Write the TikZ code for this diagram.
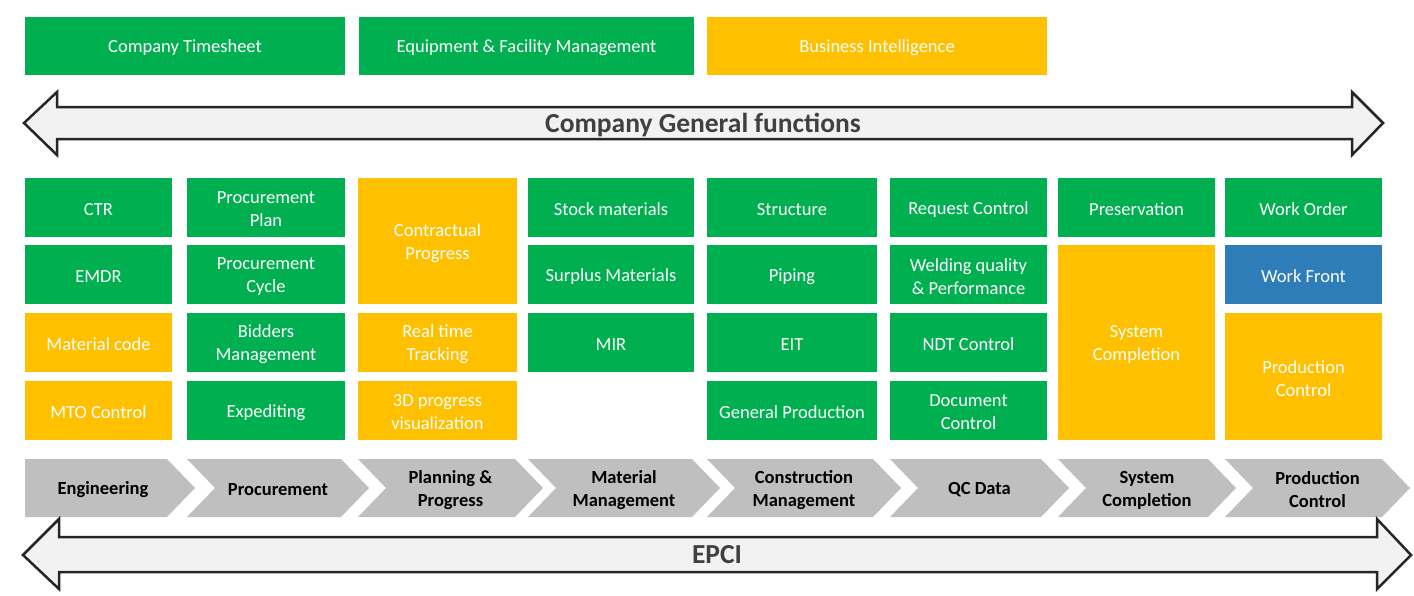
\documentclass[tikz,border=0pt]{standalone}
\usepackage{fontspec}
\setmainfont{Carlito}
\definecolor{cgreen}{HTML}{00B050}
\definecolor{cyellow}{HTML}{FFC000}
\definecolor{cblue}{HTML}{2E7DB8}
\definecolor{cgray}{HTML}{BFBFBF}
\definecolor{afill}{HTML}{F2F2F2}
\definecolor{aline}{HTML}{262626}
\definecolor{alabel}{HTML}{404040}
\tikzset{
  box/.style={draw=none, inner sep=0pt, outer sep=0pt, anchor=north west},
  gbox/.style={box, fill=cgreen},
  ybox/.style={box, fill=cyellow},
  bbox/.style={box, fill=cblue},
  boxtext/.style={inner sep=0pt, text=white, align=center, font=\fontsize{18.5}{23}\selectfont},
  chevshape/.style={fill=cgray, draw=none},
  chevtext/.style={font=\bfseries\fontsize{18.5}{23}\selectfont, align=center, text=black, inner sep=0pt},
  bigarrow/.style={fill=afill, draw=aline, line width=2.5pt, line join=miter},
  biglabel/.style={font=\bfseries\fontsize{27.5}{30}\selectfont, text=alabel, inner sep=0pt}
}
\newcommand\mybox[7]{%
  \node[#1, minimum width={#5pt-#3pt}, minimum height={#6pt-#4pt}] (#2) at (#3,#4) {};
  \node[boxtext] (#2-t) at ([yshift=-2pt]#2.center) {#7};}
\newcommand\mychev[4]{%
  \path[chevshape] (#2,459) -- (#3,459) -- ({#3+28},488) -- (#3,517) -- (#2,517) -- ({#2+28},488) -- cycle;
  \node[chevtext] (#1) at ({(#2+#3)/2+14},490) {#4};}
\begin{document}
\begin{tikzpicture}[x=1pt, y=-1pt]
\useasboundingbox (0,0) rectangle (1414,595);
\fill[white] (0,0) rectangle (1414,595);

% top row
\mybox{gbox}{ts}{25}{17}{345}{75}{Company Timesheet}
\mybox{gbox}{efm}{359}{17}{694}{75}{Equipment \& Facility Management}
\mybox{ybox}{bi}{707}{17}{1047}{75}{Business Intelligence}

% top arrow
\draw[bigarrow] (24,123) -- (57,92) -- (57,107) -- (1352,107) -- (1352,92) -- (1383,123)
  -- (1352,155) -- (1352,139) -- (57,139) -- (57,155) -- cycle;
\node[biglabel] (cgf) at (703,125) {Company General functions};

% column 1
\mybox{gbox}{ctr}{25}{178}{172}{237}{CTR}
\mybox{gbox}{emdr}{25}{245}{172}{304}{EMDR}
\mybox{ybox}{matcode}{25}{313}{172}{372}{Material code}
\mybox{ybox}{mto}{25}{381}{172}{440}{MTO Control}
% column 2
\mybox{gbox}{pplan}{187}{178}{345}{237}{Procurement\\Plan}
\mybox{gbox}{pcycle}{187}{245}{345}{304}{Procurement\\Cycle}
\mybox{gbox}{bidders}{187}{313}{345}{372}{Bidders\\Management}
\mybox{gbox}{exped}{187}{381}{345}{440}{Expediting}
% column 3
\mybox{ybox}{contr}{358}{178}{517}{304}{Contractual\\Progress}
\mybox{ybox}{rtt}{358}{313}{517}{372}{Real time\\Tracking}
\mybox{ybox}{tdp}{358}{381}{517}{440}{3D progress\\visualization}
% column 4
\mybox{gbox}{stock}{528}{178}{694}{237}{Stock materials}
\mybox{gbox}{surplus}{528}{245}{694}{304}{Surplus Materials}
\mybox{gbox}{mir}{528}{313}{694}{372}{MIR}
% column 5
\mybox{gbox}{struct}{707}{178}{877}{237}{Structure}
\mybox{gbox}{piping}{707}{245}{877}{304}{Piping}
\mybox{gbox}{eit}{707}{313}{877}{372}{EIT}
\mybox{gbox}{genprod}{707}{381}{877}{440}{General Production}
% column 6
\mybox{gbox}{reqc}{890}{178}{1047}{237}{Request Control}
\mybox{gbox}{weld}{890}{245}{1047}{304}{Welding quality\\\& Performance}
\mybox{gbox}{ndt}{890}{313}{1047}{372}{NDT Control}
\mybox{gbox}{docc}{890}{381}{1047}{440}{Document\\Control}
% column 7
\mybox{gbox}{pres}{1058}{178}{1215}{237}{Preservation}
\mybox{ybox}{syscomp}{1058}{245}{1215}{440}{System\\Completion}
% column 8
\mybox{gbox}{wo}{1225}{178}{1382}{237}{Work Order}
\mybox{bbox}{wf}{1225}{245}{1382}{304}{Work Front}
\mybox{ybox}{prodc}{1225}{313}{1382}{440}{Production\\Control}

% chevrons
\path[chevshape] (25,459) -- (167,459) -- (195,488) -- (167,517) -- (25,517) -- cycle;
\node[chevtext] (ceng) at (103,490) {Engineering};
\mychev{cproc}{187}{341}{Procurement}
\mychev{cplan}{358}{515}{Planning \&\\Progress}
\mychev{cmat}{528}{692}{Material\\Management}
\mychev{ccon}{707}{873}{Construction\\Management}
\mychev{cqc}{890}{1041}{QC Data}
\mychev{csys}{1058}{1208}{System\\Completion}
\mychev{cprod}{1225}{1382}{Production\\Control}

% bottom arrow
\draw[bigarrow] (23,555) -- (59,519) -- (59,537) -- (1377,537) -- (1377,519) -- (1411,555)
  -- (1377,589) -- (1377,572) -- (59,572) -- (59,589) -- cycle;
\node[biglabel] (epci) at (717,555) {EPCI};
\end{tikzpicture}
\end{document}
